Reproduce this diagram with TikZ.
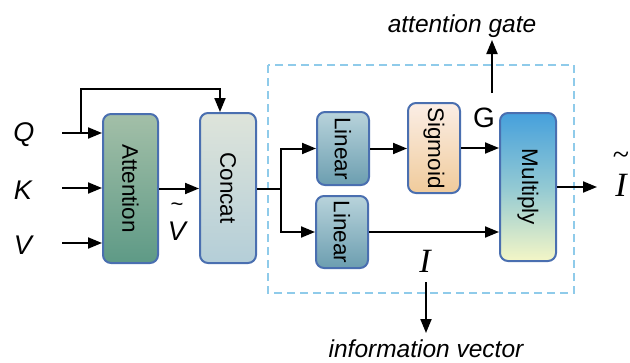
\documentclass[tikz,border=0pt]{standalone}
\usepackage{fontspec}
\usepackage{graphicx}
\setmainfont{Liberation Sans}
\newfontfamily\timesfont{Liberation Serif}
\usetikzlibrary{arrows.meta}
\definecolor{bordercol}{HTML}{4A6FB0}
\definecolor{attTop}{HTML}{A3BFA8}
\definecolor{attBot}{HTML}{5E9A86}
\definecolor{catTop}{HTML}{DEE4DA}
\definecolor{catBot}{HTML}{B4CED8}
\definecolor{linTop}{HTML}{B8D3DB}
\definecolor{linBot}{HTML}{6C9EB0}
\definecolor{sigTop}{HTML}{FBEEE6}
\definecolor{sigBot}{HTML}{F0CB9B}
\definecolor{mulTop}{HTML}{46A0DC}
\definecolor{mulMid}{HTML}{92C9D3}
\definecolor{mulBot}{HTML}{F4F6C6}
\definecolor{dashcol}{HTML}{8FCBEA}
\begin{document}
\begin{tikzpicture}[x=1pt,y=-1pt,
  blk/.style={draw=bordercol, line width=2pt, rounded corners=8pt, inner sep=0pt,
    font=\fontsize{22.5}{22.5}\selectfont},
  arr/.style={-{Triangle[length=14pt,width=11pt]}, line width=2pt},
  ln/.style={line width=2pt},
  invar/.style={inner sep=0pt, font=\fontsize{27}{27}\selectfont\itshape},
  tvar/.style={inner sep=0pt, font=\fontsize{34}{34}\selectfont\timesfont\itshape},
  captext/.style={inner sep=0pt, font=\fontsize{24.5}{24.5}\selectfont\itshape}
]
\useasboundingbox (0,0) rectangle (630,362);

% dashed frame
\draw[dashcol, line width=2.2pt, dash pattern=on 8pt off 5pt] (268,65) rectangle (574,293);

% blocks
\node[blk, minimum width=55pt, minimum height=149pt, top color=attTop, bottom color=attBot] (att) at (130.5,188.5) {\rotatebox{-90}{Attention}};
\node[blk, minimum width=56pt, minimum height=150pt, top color=catTop, bottom color=catBot] (cat) at (228,188) {\rotatebox{-90}{Concat}};
\node[blk, minimum width=52pt, minimum height=73pt, top color=linTop, bottom color=linBot] (lin1) at (343,148.5) {\rotatebox{-90}{Linear}};
\node[blk, minimum width=52pt, minimum height=72pt, top color=linTop, bottom color=linBot] (lin2) at (342,232) {\rotatebox{-90}{Linear}};
\node[blk, minimum width=52pt, minimum height=90pt, top color=sigTop, bottom color=sigBot] (sig) at (434,148) {\rotatebox{-90}{Sigmoid}};
\node[blk, minimum width=56pt, minimum height=148pt, top color=mulTop, bottom color=mulBot, middle color=mulMid] (mul) at (528,187) {\rotatebox{-90}{Multiply}};

% input labels
\node[invar] (q) at (24,135) {Q};
\node[invar] (k) at (23,190) {K};
\node[invar] (v) at (23,245) {V};

% tilde V
\node[invar, align=center] (vt) at (177,222) {{\fontsize{22}{22}\selectfont\upshape\textasciitilde}\\[2pt]V};

% outputs
\node[inner sep=0pt, font=\fontsize{28}{28}\selectfont] (g) at (484,118) {G};
\node[tvar] (i) at (425,261) {I};
\node[tvar, align=center] (it) at (621,174) {{\fontsize{30}{30}\selectfont\upshape\textasciitilde}\\[-2pt]I};

\node[captext] (atg) at (462,26) {attention gate};
\node[captext] (info) at (426,349) {information vector};

% connectors
\coordinate (qs) at (62,133);
\coordinate (ks) at (62,188);
\coordinate (vs) at (62,243);
\draw[arr] (qs) -- (att.west |- qs);
\draw[arr] (ks) -- (att.west |- ks);
\draw[arr] (vs) -- (att.west |- vs);

\coordinate (qb) at (81,133);
\coordinate (qup) at (81,89);
\coordinate (cin) at ([xshift=-8pt]cat.north);
\draw[arr] (qb) -- (qup) -| (cin);

\draw[arr] (att.east) -- (cat.west |- att.east);

\coordinate (br) at (281,189);
\draw[ln] (cat.east |- br) -- (br);
\draw[arr] (br) |- (lin1.west);
\draw[arr] (br) |- (lin2.west);

\draw[arr] (lin1.east) -- (sig.west |- lin1.east);
\draw[arr] (sig.east) -- (mul.west |- sig.east);
\draw[arr] (lin2.east) -- (mul.west |- lin2.east);

\coordinate (out) at (597,187);
\draw[arr] (mul.east |- out) -- (out);

\coordinate (g0) at (492,93);
\coordinate (g1) at (492,40);
\draw[arr] (g0) -- (g1);

\coordinate (i0) at (426,282);
\coordinate (i1) at (426,333);
\draw[arr] (i0) -- (i1);
\end{tikzpicture}
\end{document}
